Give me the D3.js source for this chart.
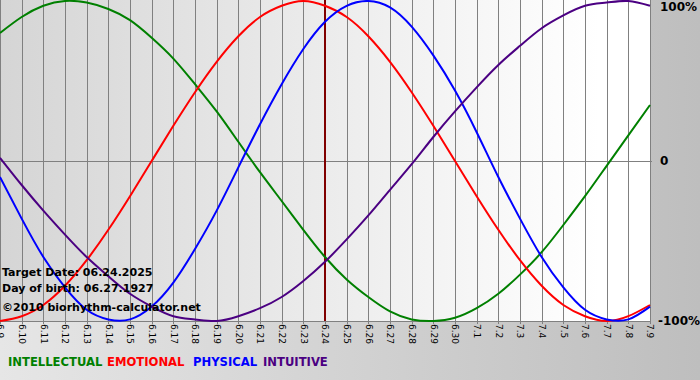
<!DOCTYPE html>
<html>
<head>
<meta charset="utf-8">
<script src="https://cdn.jsdelivr.net/npm/d3@7"></script>
<style>
  body { margin: 0; padding: 0; }
  svg { display: block; }
</style>
</head>
<body>
<div id="chart"></div>
<script>
var width = 700
var height = 380

// one label per day, 6.9 .. 7.9
var days = ["6.9","6.10","6.11","6.12","6.13","6.14","6.15","6.16","6.17","6.18","6.19",
    "6.20","6.21","6.22","6.23","6.24","6.25","6.26","6.27","6.28","6.29","6.30",
    "7.1","7.2","7.3","7.4","7.5","7.6","7.7","7.8","7.9"]

// values in percent, read per day
var intellectual = [80,90,97,100,99,95,88,77,64,48,31,12,-7,-25,-43,-60,-74,-85,-94,-99,-100,-98,-92,-83,-71,-57,-40,-22,-3,16,35]
var emotional = [-100,-97,-90,-78,-62,-43,-22,0,22,43,62,78,90,97,100,97,90,78,62,43,22,0,-22,-43,-62,-78,-90,-97,-100,-97,-90]
var physical = [-10,-36,-60,-79,-93,-99,-99,-91,-76,-55,-31,-4,23,48,70,87,97,100,96,84,66,44,18,-10,-36,-60,-79,-93,-99,-99,-91]
var intuitive = [2,-15,-31,-46,-60,-72,-83,-91,-97,-99,-100,-97,-92,-85,-75,-63,-49,-34,-18,-2,15,31,46,60,72,83,91,97,99,100,97]

var seriesNames = ["INTELLECTUAL", "EMOTIONAL", "PHYSICAL", "INTUITIVE"]
var yTicks = [100, 0, -100]
var yTickLabels = ["100%", "0", "-100%"]
var targetDay = "6.24"
var infoLines = ["Target Date: 06.24.2025", "Day of birth: 06.27.1927", "\u00a92010 biorhythm-calculator.net"]

var series = [
    {name: seriesNames[0], values: intellectual, color: "#008000"},
    {name: seriesNames[1], values: emotional, color: "#ff0000"},
    {name: seriesNames[2], values: physical, color: "#0000ff"},
    {name: seriesNames[3], values: intuitive, color: "#4b0082"}
]

var plotW = 651, plotH = 321

var svg = d3.select("#chart")
    .append("svg")
    .attr("width", width)
    .attr("height", height)

var defs = svg.append("defs")
var bgGrad = defs.append("linearGradient").attr("id", "bgGrad")
bgGrad.append("stop").attr("offset", "0%").attr("stop-color", "#e6e6e6")
bgGrad.append("stop").attr("offset", "100%").attr("stop-color", "#bebebe")
var plotGrad = defs.append("linearGradient").attr("id", "plotGrad")
plotGrad.append("stop").attr("offset", "0%").attr("stop-color", "#d5d5d5")
plotGrad.append("stop").attr("offset", "92%").attr("stop-color", "#ffffff")
plotGrad.append("stop").attr("offset", "100%").attr("stop-color", "#ffffff")

svg.append("rect")
    .attr("width", width)
    .attr("height", height)
    .attr("fill", "url(#bgGrad)")

svg.append("rect")
    .attr("width", plotW)
    .attr("height", plotH)
    .attr("fill", "url(#plotGrad)")

var x = d3.scalePoint().domain(days).range([0, plotW - 1])
var y = d3.scaleLinear().domain([-100, 100]).range([plotH, 1])

// vertical day grid + ticks
var xAxis = d3.axisBottom(x).tickSize(plotH + 3).tickFormat("")
var gx = svg.append("g")
    .attr("class", "axis axis--x")
    .call(xAxis)
gx.select(".domain").remove()
gx.selectAll(".tick line")
    .attr("stroke", "#808080")
    .attr("shape-rendering", "crispEdges")

gx.selectAll(".tick").append("text")
    .attr("transform", "translate(0," + (plotH + 3) + ") rotate(90)")
    .attr("dy", "0.35em")
    .attr("fill", "#000")
    .attr("text-anchor", "start")
    .style("font", "normal 9px 'DejaVu Sans'")
    .text(function(d) { return d })

// horizontal zero line and bottom line
svg.append("line")
    .attr("x1", 0).attr("x2", plotW + 1)
    .attr("y1", y(0)).attr("y2", y(0))
    .attr("stroke", "#808080")
    .attr("shape-rendering", "crispEdges")
svg.append("line")
    .attr("x1", 0).attr("x2", plotW)
    .attr("y1", plotH + 0.5).attr("y2", plotH + 0.5)
    .attr("stroke", "#808080")

// target day marker
svg.append("line")
    .attr("x1", x(targetDay)).attr("x2", x(targetDay))
    .attr("y1", 0).attr("y2", plotH)
    .attr("stroke", "#800000")
    .attr("stroke-width", 2)

var line = d3.line()
    .x(function(d, i) { return x(days[i]) })
    .y(function(d) { return y(d) })
    .curve(d3.curveNatural)

svg.append("g").selectAll("path")
    .data(series)
    .enter().append("path")
    .attr("d", function(d) { return line(d.values) })
    .attr("fill", "none")
    .attr("stroke", function(d) { return d.color })
    .attr("stroke-width", 2)

// right axis labels
var yAxis = d3.axisRight(y).tickValues(yTicks).tickSize(0)
    .tickFormat(function(d, i) { return yTickLabels[i] })
var gy = svg.append("g")
    .attr("transform", "translate(" + (plotW + 9) + ",0)")
    .call(yAxis)
gy.select(".domain").remove()
gy.selectAll(".tick text")
    .attr("x", 0)
    .attr("fill", "#000")
    .style("font", "bold 12px 'DejaVu Sans'")
gy.selectAll(".tick").filter(function(d) { return d === 100 })
    .attr("transform", "translate(0,7)")
gy.selectAll(".tick").filter(function(d) { return d === -100 })
    .attr("transform", "translate(-2,321)")

// info texts
svg.append("g").selectAll("text")
    .data(infoLines)
    .enter().append("text")
    .attr("x", 2)
    .attr("y", function(d, i) { return [276, 292, 311][i] })
    .attr("fill", "#000")
    .style("font", "bold 11px 'DejaVu Sans'")
    .text(function(d) { return d })

// legend
var legendX = [8, 107, 193, 263]
svg.append("g").selectAll("text")
    .data(series)
    .enter().append("text")
    .attr("x", function(d, i) { return legendX[i] })
    .attr("y", 366)
    .attr("fill", function(d) { return d.color })
    .style("font", "bold 11.6px 'DejaVu Sans'")
    .text(function(d) { return d.name })
</script>
</body>
</html>
